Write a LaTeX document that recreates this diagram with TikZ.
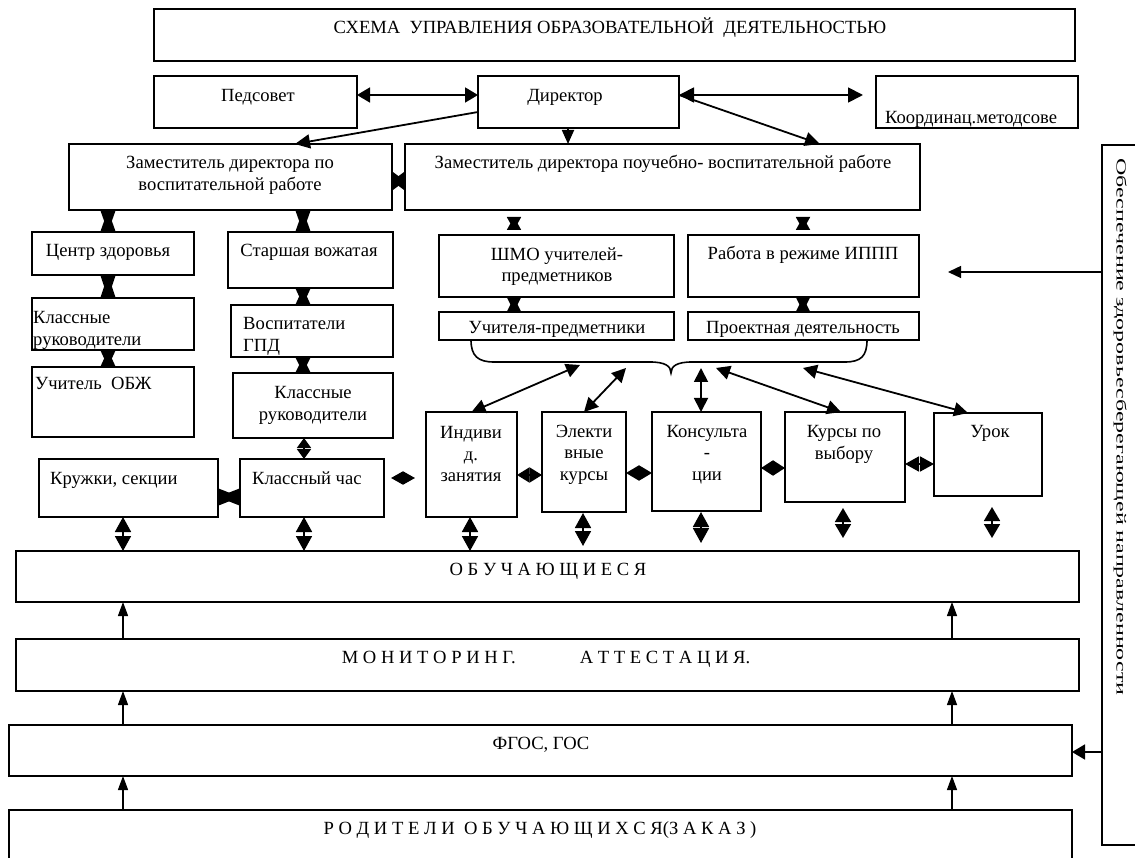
\documentclass[tikz,border=0pt]{standalone}
\usepackage{fontspec}
\setmainfont{Liberation Serif}
\usetikzlibrary{arrows.meta,fit,calc}
\begin{document}
\begin{tikzpicture}[x=1pt,y=-1pt,
  box/.style={draw, line width=1.8pt, inner sep=0pt, outer sep=0pt, rectangle},
  lbl/.style={inner sep=0pt, yshift=-2.5pt, font=\fontsize{18.6}{21.5}\selectfont},
  one/.style={lbl, text height=12pt, text depth=4pt},
  dbl/.style args={#1/#2}{line width=1.8pt, arrows={{Triangle[length=#1,width=#2]}-{Triangle[length=#1,width=#2]}}},
  sgl/.style args={#1/#2}{line width=1.8pt, arrows={-{Triangle[length=#1,width=#2]}}},
  upar/.style={line width=1.3pt, arrows={-{Triangle[length=14pt,width=10pt]}}},
]
\useasboundingbox (0,0) rectangle (1135,858);

% boxes
\node[box, fit={(154,9)(1075,61)}] (title) {};
\node[box, fit={(154,76)(357,128)}] (ped) {};
\node[box, fit={(478,76)(679,128)}] (dir) {};
\node[box, fit={(876,76)(1078,128)}] (koo) {};
\node[box, fit={(69,144)(392,210)}] (zv) {};
\node[box, fit={(405,144)(920,210)}] (zu) {};
\node[box, fit={(32,232)(194,275)}] (cz) {};
\node[box, fit={(32,298)(194,350)}] (kr1) {};
\node[box, fit={(32,367)(194,437)}] (obzh) {};
\node[box, fit={(228,232)(393,288)}] (sv) {};
\node[box, fit={(231,305)(393,357)}] (vg) {};
\node[box, fit={(233,373)(393,438)}] (kr2) {};
\node[box, fit={(39,459)(218,517)}] (kruzh) {};
\node[box, fit={(240,459)(384,517)}] (kc) {};
\node[box, fit={(439,235)(674,297)}] (shmo) {};
\node[box, fit={(688,235)(919,297)}] (rab) {};
\node[box, fit={(439,312)(674,340)}] (uch) {};
\node[box, fit={(688,312)(919,340)}] (proj) {};
\node[box, fit={(426,412)(517,517)}] (ind) {};
\node[box, fit={(542,412)(626,512)}] (el) {};
\node[box, fit={(652,412)(761,511)}] (kons) {};
\node[box, fit={(785,412)(905,502)}] (kurs) {};
\node[box, fit={(934,413)(1042,496)}] (urok) {};
\node[box, fit={(16,551)(1079,602)}] (ob) {};
\node[box, fit={(16,639)(1079,691)}] (mon) {};
\node[box, fit={(9,725)(1072,776)}] (fgos) {};
\node[box, fit={(9,810)(1072,880)}] (rod) {};
\node[box, fit={(1102,145)(1150,845)}] (vb) {};

% texts
\node[one] (ttitle) at (610,27) {СХЕМА\ \ УПРАВЛЕНИЯ ОБРАЗОВАТЕЛЬНОЙ\ \ ДЕЯТЕЛЬНОСТЬЮ};
\node[one] (tped) at (258,95) {Педсовет};
\node[one] (tdir) at (565,95) {Директор};
\node[one] (tkoo) at (971,117) {Координац.методсове};
\node[lbl, align=center] (tzv) at (230,173) {Заместитель директора по\\воспитательной работе};
\node[one] (tzu) at (663,162) {Заместитель директора поучебно- воспитательной работе};
\node[one] (tcz) at (108,250) {Центр здоровья};
\node[lbl, align=left, anchor=west] (tkr1) at (33,328) {Классные\\руководители};
\node[one, anchor=west] (tobzh) at (35,383) {Учитель\ \ ОБЖ};
\node[one] (tsv) at (309,250) {Старшая вожатая};
\node[lbl, align=left, anchor=west] (tvg) at (243,334) {Воспитатели\\ГПД};
\node[lbl, align=center] (tkr2) at (313,403) {Классные\\руководители};
\node[one, anchor=west] (tkruzh) at (50,478) {Кружки, секции};
\node[one, anchor=west] (tkc) at (252,478) {Классный час};
\node[lbl, align=center] (tshmo) at (557,264) {ШМО учителей-\\предметников};
\node[one] (trab) at (803,253) {Работа в режиме ИППП};
\node[one] (tuch) at (557,327) {Учителя-предметники};
\node[one] (tproj) at (803,327) {Проектная деятельность};
\node[lbl, align=center] (tind) at (471,452) {Индиви\\д.\\занятия};
\node[lbl, align=center] (tel) at (584,452) {Электи\\вные\\курсы};
\node[lbl, align=center] (tkons) at (707,452) {Консульта\\-\\ции};
\node[lbl, align=center] (tkurs) at (844,442) {Курсы по\\выбору};
\node[one] (turok) at (990,431) {Урок};
\node[one] (tob) at (548,569) {О Б У Ч А Ю Щ И Е С Я};
\node[one] (tmon) at (546,657) {М О Н И Т О Р И Н Г.\hspace{64pt}А Т Т Е С Т А Ц И Я.};
\node[one] (tfg) at (541,743) {ФГОС, ГОС};
\node[one] (trod) at (540,828) {Р О Д И Т Е Л И\ \ О Б У Ч А Ю Щ И Х С Я(З А К А З )};
\node[rotate=-90, inner sep=0pt] (tvb) at (1120,427) {\resizebox{537pt}{10pt}{\fontsize{15}{18}\selectfont Обеспечение здоровьесберегающей направленности}};

% top connectors
\coordinate (kend) at (863,95);
\draw[dbl=13pt/15pt] (ped.east |- 0,95) -- (dir.west |- 0,95);
\draw[dbl=15pt/15pt] (dir.east |- 0,95) -- (kend);
\draw[sgl=15pt/14pt] (dir.west |- 0,112) -- (295,0 |- zv.north);
\draw[sgl=15pt/14pt] (dir.east |- 0,95) -- (820,0 |- zu.north);
\draw[sgl=14pt/12pt] (568,0 |- dir.south) -- (568,0 |- zu.north);

% bowties
\draw[dbl=13pt/19pt] (zv.east |- 0,181) -- (zu.west |- 0,181);
\draw[dbl=22pt/15pt] (108,0 |- zv.south) -- (108,0 |- cz.north);
\draw[dbl=22pt/15pt] (303,0 |- zv.south) -- (303,0 |- sv.north);
\draw[dbl=13pt/14pt, shorten <=7pt, shorten >=5pt] (514,0 |- zu.south) -- (514,0 |- shmo.north);
\draw[dbl=13pt/14pt, shorten <=7pt, shorten >=5pt] (803,0 |- zu.south) -- (803,0 |- rab.north);
\draw[dbl=23pt/15pt] (108,0 |- cz.south) -- (108,0 |- kr1.north);
\draw[dbl=17pt/15pt] (108,0 |- kr1.south) -- (108,0 |- obzh.north);
\draw[dbl=17pt/15pt] (303,0 |- sv.south) -- (303,0 |- vg.north);
\draw[dbl=16pt/15pt] (303,0 |- vg.south) -- (303,0 |- kr2.north);
\draw[dbl=15pt/14pt] (514,0 |- shmo.south) -- (514,0 |- uch.north);
\draw[dbl=15pt/14pt] (803,0 |- rab.south) -- (803,0 |- proj.north);
\draw[dbl=10pt/14pt] (304,0 |- kr2.south) -- (304,0 |- kc.north);
\draw[dbl=22pt/17pt] (kruzh.east |- 0,497) -- (kc.west |- 0,497);

% diamonds between middle row
\draw[dbl=12pt/13pt, shorten <=7pt, shorten >=11pt] (kc.east |- 0,478) -- (ind.west |- 0,478);
\draw[dbl=12.5pt/15pt] (ind.east |- 0,475) -- (el.west |- 0,475);
\draw[dbl=13pt/15pt] (el.east |- 0,473) -- (kons.west |- 0,473);
\draw[dbl=12pt/15pt] (kons.east |- 0,468) -- (kurs.west |- 0,468);
\draw[dbl=14pt/15pt] (kurs.east |- 0,464) -- (urok.west |- 0,464);

% brace
\draw[line width=1.6pt] (471,340) .. controls (471,356) and (478,362) .. (494,362) -- (650,362)
  .. controls (665,362) and (671,366) .. (671,373) .. controls (671,366) and (677,362) .. (692,362)
  -- (845,362) .. controls (861,362) and (867,356) .. (867,340);
\coordinate (b1) at (580,365);
\coordinate (b2) at (626,368);
\coordinate (b3) at (701,368);
\coordinate (b4) at (716,368);
\coordinate (b5) at (803,368);
\draw[dbl=14pt/14pt] (b1) -- (ind.north);
\draw[dbl=14pt/14pt] (b2) -- (el.north);
\draw[dbl=14pt/14pt] (b3) -- (701,0 |- kons.north);
\draw[dbl=14pt/14pt] (b4) -- (841,0 |- kurs.north);
\draw[dbl=14pt/14pt] (b5) -- (968,0 |- urok.north);

% to students
\draw[dbl=15pt/16pt] (123,0 |- kruzh.south) -- (123,0 |- ob.north);
\draw[dbl=15pt/16pt] (304,0 |- kc.south) -- (304,0 |- ob.north);
\draw[dbl=15pt/16pt] (470,0 |- ind.south) -- (470,0 |- ob.north);
\draw[dbl=15pt/16pt, shorten <=1pt, shorten >=5pt] (583,0 |- el.south) -- (583,0 |- ob.north);
\draw[dbl=15pt/16pt, shorten <=1pt, shorten >=8pt] (701,0 |- kons.south) -- (701,0 |- ob.north);
\draw[dbl=14pt/16pt, shorten <=6pt, shorten >=13pt] (843,0 |- kurs.south) -- (843,0 |- ob.north);
\draw[dbl=14pt/16pt, shorten <=11pt, shorten >=13pt] (992,0 |- urok.south) -- (992,0 |- ob.north);

% up arrows
\foreach \xx in {123,952}{
  \draw[upar] (\xx,0 |- mon.north) -- (\xx,0 |- ob.south);
  \draw[upar] (\xx,0 |- fgos.north) -- (\xx,0 |- mon.south);
  \draw[upar] (\xx,0 |- rod.north) -- (\xx,0 |- fgos.south);
}

% right box arrows
\draw[line width=1.4pt, -{Triangle[length=13pt,width=12pt]}, shorten >=29pt] (vb.west |- 0,272) -- (rab.east |- 0,272);
\draw[line width=1.8pt, -{Triangle[length=13pt,width=15pt]}] (vb.west |- 0,752) -- (fgos.east |- 0,752);
\end{tikzpicture}
\end{document}
